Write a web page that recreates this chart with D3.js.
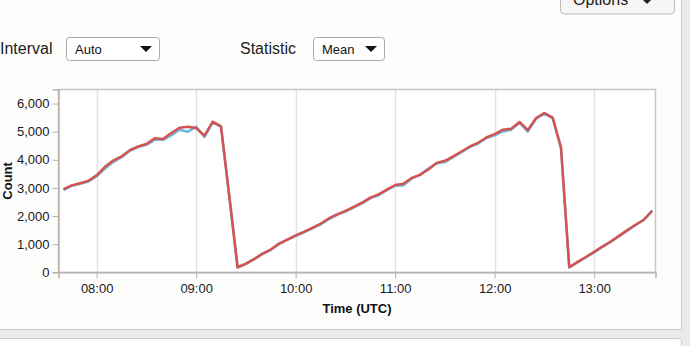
<!DOCTYPE html>
<html>
<head>
<meta charset="utf-8">
<script src="https://cdn.jsdelivr.net/npm/d3@7"></script>
<style>
  body { margin: 0; background: #fdfdfc; }
  svg { display: block; font-family: "Liberation Sans", Arial, Helvetica, sans-serif; }
  .axis text { font-size: 13px; fill: #1a1a1a; }
  .axis line, .axis path { stroke: #b5b3b0; }
</style>
</head>
<body>
<svg id="chart" width="690" height="346"></svg>
<script>
// 5 minute buckets, 07:40 .. 13:35 UTC
var startTime = "2020-01-01T07:40:00Z";
var bucketCount = 72;

// Mean count, second series (red)
var redValues = [
  2960, 3090, 3165, 3250,
  3450, 3750, 3975, 4120, 4340, 4475, 4560, 4765, 4740, 4950, 5140, 5175,
  5130, 4860, 5355, 5190, 2700, 180, 310, 475, 665, 810, 1020, 1165,
  1310, 1440, 1580, 1725, 1915, 2060, 2185, 2330, 2475, 2655, 2770, 2940,
  3105, 3145, 3355, 3465, 3655, 3890, 3965, 4120, 4295, 4475, 4605, 4795,
  4915, 5070, 5105, 5345, 5055, 5485, 5665, 5500, 4440, 180, 370, 545,
  725, 915, 1095, 1295, 1500, 1690, 1870, 2180
];

// Mean count, first series (blue)
var blueValues = [
  2920, 3080, 3150, 3230,
  3410, 3690, 3920, 4090, 4320, 4450, 4530, 4710, 4710, 4870, 5070, 5000,
  5170, 4810, 5330, 5170, 2700, 170, 290, 460, 650, 800, 1000, 1150,
  1290, 1420, 1560, 1705, 1890, 2040, 2160, 2300, 2450, 2630, 2740, 2920,
  3080, 3090, 3330, 3470, 3690, 3870, 3920, 4090, 4270, 4450, 4580, 4770,
  4870, 5010, 5070, 5320, 5000, 5460, 5640, 5470, 4420, 170, 350, 530,
  710, 900, 1080, 1280, 1480, 1680, 1870, 2200
];

var yTicks = [0, 1000, 2000, 3000, 4000, 5000, 6000];
var xDomain = ["2020-01-01T07:37:00Z", "2020-01-01T13:37:00Z"];

var t0 = new Date(startTime);
var times = d3.utcMinute.every(5).range(t0, d3.utcMinute.offset(t0, bucketCount * 5));

var svg = d3.select("#chart");
var W = 690, H = 346;

// page chrome
svg.append("rect").attr("x", 682).attr("y", 0).attr("width", 8).attr("height", H).attr("fill", "#ecebe9");
svg.append("rect").attr("x", 0).attr("y", 330).attr("width", W).attr("height", 16).attr("fill", "#ecebe9");
svg.append("line").attr("x1", 681.5).attr("x2", 681.5).attr("y1", 0).attr("y2", 329.5).attr("stroke", "#cfcdca");
svg.append("line").attr("x1", 0).attr("x2", 681.5).attr("y1", 329.5).attr("y2", 329.5).attr("stroke", "#cfcdca");
svg.append("rect").attr("x", -5).attr("y", 338.5).attr("width", 686.5).attr("height", 20).attr("rx", 3)
  .attr("fill", "#fdfdfc").attr("stroke", "#cfcdca");

// Options button (cut at top)
svg.append("rect").attr("x", 560.5).attr("y", -12).attr("width", 114).attr("height", 26).attr("rx", 4)
  .attr("fill", "#f6f6f5").attr("stroke", "#bdbbb8");
svg.append("text").attr("x", 573).attr("y", 5).attr("font-size", 16).attr("fill", "#222").text("Options");
svg.append("path").attr("d", "M642,-1 L652,-1 L647,4 Z").attr("fill", "#222");

// controls
function dropdown(x, w, label, text) {
  svg.append("text").attr("x", x - (label === "Interval" ? 66 : 73)).attr("y", 54)
    .attr("font-size", 16).attr("fill", "#222").text(label);
  svg.append("rect").attr("x", x + 0.5).attr("y", 37.5).attr("width", w).attr("height", 23).attr("rx", 3)
    .attr("fill", "#fff").attr("stroke", "#aaa");
  svg.append("text").attr("x", x + 9).attr("y", 53.5).attr("font-size", 13).attr("fill", "#111").text(text);
  svg.append("path").attr("d", "M" + (x + w - 19) + ",46 L" + (x + w - 7) + ",46 L" + (x + w - 13) + ",52 Z")
    .attr("fill", "#111");
}
dropdown(66, 93, "Interval", "Auto");
dropdown(313, 71, "Statistic", "Mean");

// plot
var plotLeft = 58.5, plotRight = 655.5, plotTop = 89.5, plotBottom = 272.3;

var x = d3.scaleUtc().domain(xDomain.map(function(d) { return new Date(d); })).range([plotLeft, plotRight]);
var y = d3.scaleLinear().domain([0, 6500]).range([plotBottom, plotTop]);

svg.append("rect").attr("x", plotLeft).attr("y", plotTop).attr("width", plotRight - plotLeft).attr("height", plotBottom - plotTop)
  .attr("fill", "#fff");

// vertical grid
svg.append("g").selectAll("line")
  .data(x.ticks(d3.utcHour.every(1)))
  .enter().append("line")
    .attr("x1", function(d) { return Math.round(x(d)) + 0.5; })
    .attr("x2", function(d) { return Math.round(x(d)) + 0.5; })
    .attr("y1", plotTop).attr("y2", plotBottom)
    .attr("stroke", "#e2e2e2").attr("stroke-width", 1.5);

// border
svg.append("rect").attr("x", plotLeft).attr("y", plotTop).attr("width", plotRight - plotLeft).attr("height", plotBottom - plotTop)
  .attr("fill", "none").attr("stroke", "#c8c6c3").attr("stroke-width", 1.5);

svg.append("g")
  .attr("class", "axis")
  .attr("transform", "translate(" + plotLeft + ",0)")
  .call(d3.axisLeft(y).tickValues(yTicks).tickFormat(d3.format(",")).tickSize(6).tickPadding(3));

svg.append("g")
  .attr("class", "axis")
  .attr("transform", "translate(0," + plotBottom + ")")
  .call(d3.axisBottom(x).ticks(d3.utcHour.every(1)).tickFormat(d3.utcFormat("%H:%M")).tickSize(6).tickPadding(5));

svg.selectAll(".axis .domain").attr("stroke", "#c8c6c3").attr("stroke-width", 1.5);

svg.append("text")
  .attr("transform", "translate(11.5," + ((plotTop + plotBottom) / 2) + ") rotate(-90)")
  .attr("text-anchor", "middle").attr("font-size", 13).attr("font-weight", "bold").attr("fill", "#111")
  .text("Count");

svg.append("text")
  .attr("x", (plotLeft + plotRight) / 2).attr("y", 313)
  .attr("text-anchor", "middle").attr("font-size", 13).attr("font-weight", "bold").attr("fill", "#111")
  .text("Time (UTC)");

var line = d3.line()
  .x(function(d, i) { return x(times[i]); })
  .y(function(d) { return y(d); });

svg.append("path").datum(blueValues)
  .attr("fill", "none").attr("stroke", "#6db8e0").attr("stroke-width", 2.5)
  .attr("stroke-linejoin", "round").attr("d", line);

svg.append("path").datum(redValues)
  .attr("fill", "none").attr("stroke", "#d5534f").attr("stroke-width", 2.5)
  .attr("stroke-linejoin", "round").attr("d", line);
</script>
</body>
</html>
